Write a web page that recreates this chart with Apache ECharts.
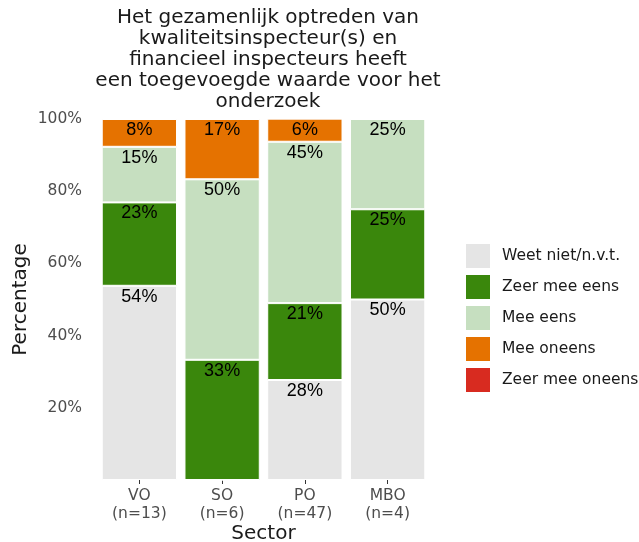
<!DOCTYPE html>
<html>
<head>
<meta charset="utf-8">
<script src="https://cdn.jsdelivr.net/npm/echarts@6/dist/echarts.min.js"></script>
<style>
  html, body { margin: 0; padding: 0; background: #fff; }
  #chart { width: 639px; height: 542px; }
</style>
</head>
<body>
<div id="chart"></div>
<script>
  // data
  const sectors = ['VO\n(n=13)', 'SO\n(n=6)', 'PO\n(n=47)', 'MBO\n(n=4)'];
  const weetNiet = [53.8, 0, 27.7, 50];
  const zeerMeeEens = [23.1, 33.3, 21.3, 25];
  const meeEens = [15.4, 50, 44.7, 25];
  const meeOneens = [7.7, 16.7, 6.4, 0];
  const zeerMeeOneens = [0, 0, 0, 0];
  const yTicks = [0, 20, 40, 60, 80, 100];

  const font = 'DejaVu Sans, Verdana, sans-serif';
  const colors = ['#e5e5e5', '#3a870c', '#c6dfc0', '#e57200', '#d82b20'];
  const names = ['Weet niet/n.v.t.', 'Zeer mee eens', 'Mee eens', 'Mee oneens', 'Zeer mee oneens'];
  const values = [weetNiet, zeerMeeEens, meeEens, meeOneens, zeerMeeOneens];

  let chart = echarts.init(document.getElementById('chart'));
  chart.setOption({
    animation: false,
    title: {
      text: 'Het gezamenlijk optreden van\nkwaliteitsinspecteur(s) en\nfinancieel inspecteurs heeft\neen toegevoegde waarde voor het\nonderzoek',
      left: 263,
      top: 2,
      textAlign: 'center',
      textStyle: { fontFamily: font, fontSize: 20, fontWeight: 'normal', color: '#1a1a1a', lineHeight: 21 }
    },
    legend: {
      orient: 'vertical',
      left: 464,
      top: 242,
      padding: 0,
      icon: 'rect',
      itemWidth: 26,
      itemHeight: 26,
      itemGap: 3,
      data: names,
      textStyle: { fontFamily: font, fontSize: 15.5, color: '#1a1a1a', padding: [0, 0, 0, 6] }
    },
    grid: { left: 98, right: 210, top: 119, bottom: 62, outerBoundsMode: 'none' },
    xAxis: {
      type: 'category',
      data: sectors,
      name: 'Sector',
      nameLocation: 'middle',
      nameGap: 44,
      nameMoveOverlap: false,
      nameTextStyle: { fontFamily: font, fontSize: 20, color: '#1a1a1a' },
      axisLine: { show: false },
      axisTick: { show: true, alignWithLabel: true, length: 4, lineStyle: { color: '#333' } },
      axisLabel: { fontFamily: font, fontSize: 15.5, color: '#4d4d4d', margin: 7, lineHeight: 18 }
    },
    yAxis: {
      type: 'value',
      min: yTicks[0],
      max: yTicks[yTicks.length - 1],
      interval: 20,
      name: 'Percentage',
      nameLocation: 'middle',
      nameGap: 67,
      nameMoveOverlap: false,
      nameTextStyle: { fontFamily: font, fontSize: 20, color: '#1a1a1a' },
      splitLine: { show: false },
      axisLine: { show: false },
      axisTick: { show: false },
      axisLabel: {
        fontFamily: font, fontSize: 15.5, color: '#4d4d4d', margin: 16,
        formatter: v => v === 0 ? '' : v + '%'
      }
    },
    series: names.map((n, i) => ({
      name: n,
      type: 'bar',
      stack: 'total',
      barCategoryGap: '9%',
      data: values[i],
      itemStyle: { color: colors[i], borderColor: '#fff', borderWidth: 1 },
      label: {
        show: true,
        position: 'insideTop',
        distance: 2,
        fontFamily: 'Liberation Sans, Arial, sans-serif',
        fontSize: 18,
        color: '#000',
        formatter: p => p.value > 0 ? Math.round(p.value) + '%' : ''
      }
    }))
  });
</script>
</body>
</html>
